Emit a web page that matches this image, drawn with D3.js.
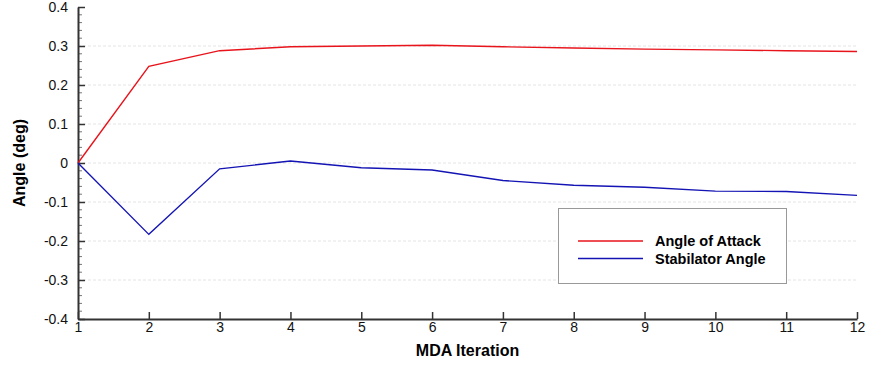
<!DOCTYPE html>
<html>
<head>
<meta charset="utf-8">
<script src="https://cdn.jsdelivr.net/npm/d3@7"></script>
<style>
  body { margin: 0; background: #fff; }
  text { font-family: "Liberation Sans", Arial, sans-serif; }
</style>
</head>
<body>
<div id="chart"></div>
<script>
const iterations = [1, 2, 3, 4, 5, 6, 7, 8, 9, 10, 11, 12];
const angleOfAttack = [0, 0.248, 0.288, 0.298, 0.300, 0.302, 0.298, 0.295, 0.292, 0.290, 0.288, 0.286];
const stabilatorAngle = [0, -0.183, -0.015, 0.005, -0.012, -0.018, -0.045, -0.057, -0.062, -0.072, -0.073, -0.083];
const yTicks = [-0.4, -0.3, -0.2, -0.1, 0, 0.1, 0.2, 0.3, 0.4];
const seriesNames = ["Angle of Attack", "Stabilator Angle"];
const seriesColors = ["#e8141c", "#1414b4"];

const width = 870, height = 366;
const margin = { top: 7, right: 13, bottom: 47, left: 78 };

const svg = d3.select("#chart").append("svg")
  .attr("width", width)
  .attr("height", height);

const x = d3.scaleLinear().domain([1, 12]).range([margin.left, width - margin.right]);
const y = d3.scaleLinear().domain([-0.4, 0.4]).range([height - margin.bottom, margin.top]);

// plain hyphen for negatives, like the original
const fmt = d => d === 0 ? "0" : d.toFixed(1);

// grid
svg.append("g")
  .selectAll("line")
  .data(yTicks.slice(1, -1))
  .join("line")
  .attr("x1", x(1)).attr("x2", x(12))
  .attr("y1", d => y(d)).attr("y2", d => y(d))
  .attr("stroke", "#e4e4e4")
  .attr("stroke-dasharray", "3,2")
  .attr("stroke-width", 1);

// minor y ticks
const minor = d3.range(-0.4, 0.4001, 0.02).filter(v => Math.abs(Math.round(v * 10) - v * 10) > 0.01);
svg.append("g")
  .selectAll("line")
  .data(minor)
  .join("line")
  .attr("x1", x(1)).attr("x2", x(1) + 4)
  .attr("y1", d => y(d)).attr("y2", d => y(d))
  .attr("stroke", "#777")
  .attr("stroke-width", 1);

// y axis
const yAxis = svg.append("g")
  .attr("transform", `translate(${x(1)},0)`)
  .call(d3.axisLeft(y).tickValues(yTicks).tickFormat(fmt).tickSizeInner(-7).tickSizeOuter(0).tickPadding(10));
yAxis.select(".domain").attr("stroke", "#333").attr("stroke-width", 2);
yAxis.selectAll(".tick line").attr("stroke", "#333").attr("stroke-width", 1.5);
yAxis.selectAll(".tick text").attr("font-size", 14).attr("fill", "#111")
  .attr("font-family", "Liberation Sans, Arial, sans-serif");

// x axis
const xAxis = svg.append("g")
  .attr("transform", `translate(0,${y(-0.4)})`)
  .call(d3.axisBottom(x).tickValues(iterations).tickFormat(d3.format("d")).tickSizeInner(-7).tickSizeOuter(0).tickPadding(3));
xAxis.select(".domain").attr("stroke", "#333").attr("stroke-width", 2);
xAxis.selectAll(".tick line").attr("stroke", "#333").attr("stroke-width", 1.5);
xAxis.selectAll(".tick text").attr("font-size", 14).attr("fill", "#111")
  .attr("font-family", "Liberation Sans, Arial, sans-serif");

// lines
const line = d3.line().x((d, i) => x(iterations[i])).y(d => y(d));
[angleOfAttack, stabilatorAngle].forEach((s, k) => {
  svg.append("path")
    .datum(s)
    .attr("d", line)
    .attr("fill", "none")
    .attr("stroke", seriesColors[k])
    .attr("stroke-width", 1.4);
});

// axis titles
svg.append("text")
  .attr("transform", `translate(25,${y(0)}) rotate(-90)`)
  .attr("text-anchor", "middle")
  .attr("font-size", 16)
  .attr("font-weight", "bold")
  .text("Angle (deg)");

svg.append("text")
  .attr("x", (x(1) + x(12)) / 2)
  .attr("y", 356)
  .attr("text-anchor", "middle")
  .attr("font-size", 16)
  .attr("font-weight", "bold")
  .text("MDA Iteration");

// legend
const legend = svg.append("g").attr("transform", "translate(558,208)");
legend.append("rect")
  .attr("x", 0.5).attr("y", 0.5)
  .attr("width", 228).attr("height", 75)
  .attr("fill", "#fff")
  .attr("stroke", "#999")
  .attr("stroke-width", 1);
seriesNames.forEach((n, i) => {
  const ly = 33 + i * 17.5;
  legend.append("line")
    .attr("x1", 20).attr("x2", 85)
    .attr("y1", ly).attr("y2", ly)
    .attr("stroke", seriesColors[i])
    .attr("stroke-width", 1.4);
  legend.append("text")
    .attr("x", 97).attr("y", ly + 5)
    .attr("font-size", 14.5)
    .attr("font-weight", "bold")
    .text(n);
});
</script>
</body>
</html>
